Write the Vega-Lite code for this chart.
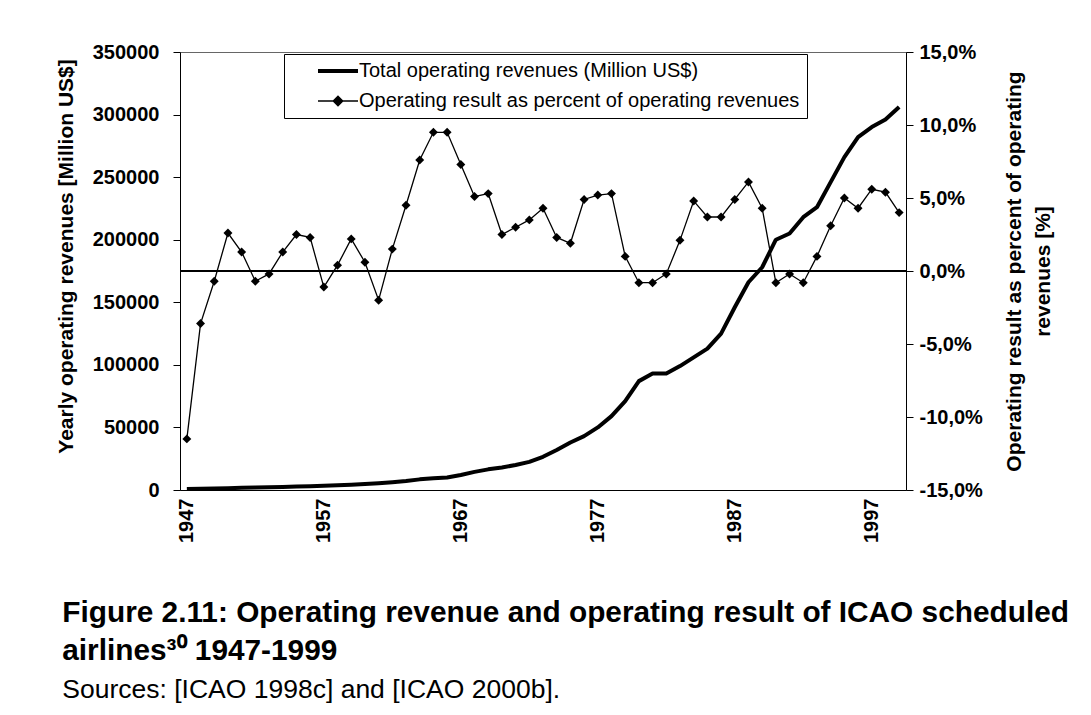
{
  "$schema": "https://vega.github.io/schema/vega-lite/v6.json",
  "width": 726,
  "height": 438,
  "padding": {"left": 55, "top": 42, "right": 0, "bottom": 0},
  "background": "#ffffff",
  "config": {
    "font": "Liberation Sans",
    "view": {"stroke": "#666", "strokeWidth": 1},
    "axis": {
      "grid": false,
      "domainColor": "#000",
      "tickColor": "#000",
      "labelColor": "#000",
      "titleColor": "#000",
      "labelFont": "Liberation Sans",
      "titleFont": "Liberation Sans",
      "labelFontSize": 20,
      "labelFontWeight": "bold",
      "titleFontSize": 21,
      "titleFontWeight": "bold"
    }
  },
  "title": {
    "text": ["Figure 2.11: Operating revenue and operating result of ICAO scheduled", "airlines³⁰ 1947-1999"],
    "subtitle": "Sources: [ICAO 1998c] and [ICAO 2000b].",
    "orient": "bottom",
    "anchor": "start",
    "frame": "bounds",
    "dx": 7,
    "font": "Liberation Sans",
    "fontSize": 29.8,
    "fontWeight": "bold",
    "lineHeight": 38,
    "color": "#000",
    "subtitleFont": "Liberation Sans",
    "subtitleFontSize": 26.5,
    "subtitleFontWeight": "normal",
    "subtitleColor": "#000",
    "subtitlePadding": 11,
    "offset": 56
  },
  "data": {
    "values": [
      {"year": 1947, "rev": 800, "pct": -11.5},
      {"year": 1948, "rev": 1000, "pct": -3.6},
      {"year": 1949, "rev": 1200, "pct": -0.7},
      {"year": 1950, "rev": 1400, "pct": 2.6},
      {"year": 1951, "rev": 1700, "pct": 1.3},
      {"year": 1952, "rev": 1900, "pct": -0.7},
      {"year": 1953, "rev": 2100, "pct": -0.2},
      {"year": 1954, "rev": 2400, "pct": 1.3},
      {"year": 1955, "rev": 2700, "pct": 2.5},
      {"year": 1956, "rev": 3000, "pct": 2.3},
      {"year": 1957, "rev": 3400, "pct": -1.1},
      {"year": 1958, "rev": 3700, "pct": 0.4},
      {"year": 1959, "rev": 4200, "pct": 2.2},
      {"year": 1960, "rev": 4800, "pct": 0.6},
      {"year": 1961, "rev": 5400, "pct": -2.0},
      {"year": 1962, "rev": 6200, "pct": 1.5},
      {"year": 1963, "rev": 7200, "pct": 4.5},
      {"year": 1964, "rev": 8500, "pct": 7.6},
      {"year": 1965, "rev": 9300, "pct": 9.5},
      {"year": 1966, "rev": 10000, "pct": 9.5},
      {"year": 1967, "rev": 12000, "pct": 7.3},
      {"year": 1968, "rev": 14500, "pct": 5.1},
      {"year": 1969, "rev": 16500, "pct": 5.3},
      {"year": 1970, "rev": 18000, "pct": 2.5},
      {"year": 1971, "rev": 20000, "pct": 3.0},
      {"year": 1972, "rev": 22500, "pct": 3.5},
      {"year": 1973, "rev": 26500, "pct": 4.3},
      {"year": 1974, "rev": 32000, "pct": 2.3},
      {"year": 1975, "rev": 38000, "pct": 1.9},
      {"year": 1976, "rev": 43000, "pct": 4.9},
      {"year": 1977, "rev": 50000, "pct": 5.2},
      {"year": 1978, "rev": 59000, "pct": 5.3},
      {"year": 1979, "rev": 71000, "pct": 1.0},
      {"year": 1980, "rev": 87000, "pct": -0.8},
      {"year": 1981, "rev": 93000, "pct": -0.8},
      {"year": 1982, "rev": 93000, "pct": -0.2},
      {"year": 1983, "rev": 99000, "pct": 2.1},
      {"year": 1984, "rev": 106000, "pct": 4.8},
      {"year": 1985, "rev": 113000, "pct": 3.7},
      {"year": 1986, "rev": 125000, "pct": 3.7},
      {"year": 1987, "rev": 146000, "pct": 4.9},
      {"year": 1988, "rev": 166000, "pct": 6.1},
      {"year": 1989, "rev": 178000, "pct": 4.3},
      {"year": 1990, "rev": 200000, "pct": -0.8},
      {"year": 1991, "rev": 205000, "pct": -0.2},
      {"year": 1992, "rev": 218000, "pct": -0.8},
      {"year": 1993, "rev": 226000, "pct": 1.0},
      {"year": 1994, "rev": 246000, "pct": 3.1},
      {"year": 1995, "rev": 266000, "pct": 5.0},
      {"year": 1996, "rev": 282000, "pct": 4.3},
      {"year": 1997, "rev": 290000, "pct": 5.6},
      {"year": 1998, "rev": 296000, "pct": 5.4},
      {"year": 1999, "rev": 306000, "pct": 4.0}
    ]
  },
  "layer": [
    {
      "mark": {"type": "line", "strokeWidth": 4, "strokeJoin": "round"},
      "encoding": {
        "x": {
          "field": "year",
          "type": "quantitative",
          "scale": {"domain": [1946.5, 1999.5], "nice": false, "zero": false},
          "axis": {
            "title": null,
            "values": [1947, 1957, 1967, 1977, 1987, 1997],
            "format": "d",
            "labelAngle": -90,
            "ticks": false,
            "labelPadding": 8
          }
        },
        "y": {
          "field": "rev",
          "type": "quantitative",
          "scale": {"domain": [0, 350000], "nice": false},
          "axis": {
            "orient": "left",
            "title": "Yearly operating revenues [Million US$]",
            "titleY": 204,
            "values": [0, 50000, 100000, 150000, 200000, 250000, 300000, 350000],
            "format": "d",
            "tickSize": 7,
            "labelPadding": 14,
            "titlePadding": 16
          }
        },
        "color": {
          "datum": "Total operating revenues (Million US$)",
          "type": "nominal",
          "scale": {
            "domain": ["Total operating revenues (Million US$)", "Operating result as percent of operating revenues"],
            "range": ["#000000", "#000000"]
          },
          "legend": {
            "title": null,
            "orient": "none",
            "legendX": 104,
            "legendY": 2,
            "strokeColor": "#000",
            "fillColor": "#fff",
            "padding": 7,
            "symbolOffset": 37,
            "symbolSize": 1600,
            "labelFont": "Liberation Sans",
            "labelFontSize": 20,
            "labelColor": "#000",
            "labelOffset": 11,
            "rowPadding": 10,
            "labelLimit": 600,
            "encode": {
              "symbols": {
                "update": {
                  "shape": {"signal": "datum.value === 'Total operating revenues (Million US$)' ? 'stroke' : 'M-1,0L1,0M0,-0.24L0.24,0L0,0.24L-0.24,0Z'"},
                  "strokeWidth": {"signal": "datum.value === 'Total operating revenues (Million US$)' ? 4 : 1.3"},
                  "stroke": {"value": "#000"},
                  "fill": {"value": "#000"},
                  "opacity": {"value": 1}
                }
              }
            }
          }
        }
      }
    },
    {
      "layer": [
        {
          "mark": {"type": "rule", "color": "#000", "strokeWidth": 1},
          "encoding": {
            "y": {"datum": 0, "type": "quantitative"}
          }
        },
        {
          "mark": {"type": "line", "strokeWidth": 1.3},
          "encoding": {
            "x": {"field": "year", "type": "quantitative"},
            "y": {
              "field": "pct",
              "type": "quantitative",
              "scale": {"domain": [-15, 15], "nice": false},
              "axis": {
                "orient": "right",
                "title": ["Operating result as percent of operating", "revenues [%]"],
                "titleAngle": -90,
                "titleLineHeight": 29,
                "values": [-15, -10, -5, 0, 5, 10, 15],
                "labelExpr": "replace(replace(format(datum.value, '.1f'), '.', ','), '−', '-') + '%'",
                "tickSize": 7,
                "labelPadding": 6,
                "titlePadding": 13
              }
            },
            "color": {"datum": "Operating result as percent of operating revenues", "type": "nominal"}
          }
        },
        {
          "mark": {"type": "point", "shape": "diamond", "filled": true, "size": 80, "opacity": 1},
          "encoding": {
            "x": {"field": "year", "type": "quantitative"},
            "y": {"field": "pct", "type": "quantitative"},
            "color": {"datum": "Operating result as percent of operating revenues", "type": "nominal"}
          }
        }
      ]
    }
  ],
  "resolve": {"scale": {"y": "independent"}}
}
